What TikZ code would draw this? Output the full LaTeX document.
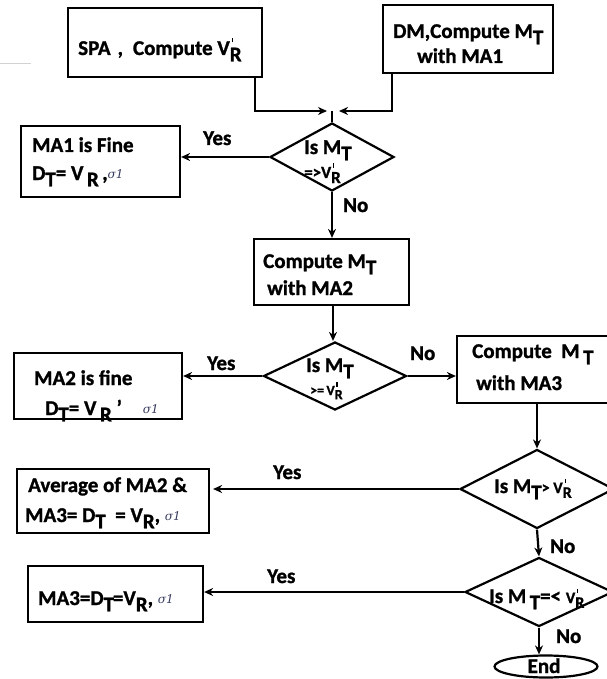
\documentclass[tikz,border=0pt]{standalone}
\usepackage{fontspec}
\setmainfont{Carlito}[BoldFeatures={FakeBold=1.2}]
\newfontfamily\sigfont{DejaVu Serif}
\usetikzlibrary{arrows.meta,shapes.geometric,calc}

\definecolor{sigcol}{RGB}{55,60,95}

% lowered subscript letter, prime tick, and the small sigma tag
\newcommand\lo[1]{\raisebox{-0.3em}{#1}}
\newcommand\pr{\makebox[0pt][l]{\kern0.12em\rule[0.6em]{1.1pt}{4.5pt}}}
\newcommand\sig{{\color{sigcol}\sigfont\mdseries\itshape\fontsize{12}{12}\selectfont\raisebox{0.12em}{σ1}}}

\tikzset{
  box/.style={draw, line width=2.2pt, inner sep=0pt},
  dia/.style={diamond, draw, line width=2.2pt, inner sep=0pt},
  txt/.style={inner sep=0pt, anchor=base west, font=\bfseries\fontsize{21}{23}\selectfont},
  lbl/.style={txt},
  link/.style={line width=2.2pt},
  arr/.style={line width=2.2pt, -{Stealth[length=9pt,width=8pt]}}
}

\begin{document}
\begin{tikzpicture}[x=1pt,y=-1pt]
\useasboundingbox (0,0) rectangle (606,679);

% stray rule at the top left
\draw[gray!35, line width=1pt] (0,64) -- (31,64);

% boxes
\node[box, minimum width=194pt, minimum height=69pt] (spa) at (165,42.5) {};
\node[box, minimum width=170pt, minimum height=68pt] (dm)  at (468,39) {};
\node[box, minimum width=159pt, minimum height=71pt] (ma1) at (100.5,161.5) {};
\node[box, minimum width=155pt, minimum height=66pt] (c2)  at (331.5,272) {};
\node[box, minimum width=168pt, minimum height=66pt] (ma2) at (98,386) {};
\node[box, minimum width=163pt, minimum height=67pt] (c3)  at (538.5,369.5) {};
\node[box, minimum width=192pt, minimum height=64pt] (avg) at (113,501) {};
\node[box, minimum width=175pt, minimum height=56pt] (ma3) at (115.5,594) {};
\node[ellipse, draw, line width=2.2pt, inner sep=0pt, minimum width=103pt, minimum height=22pt] (end) at (546,666.5) {};

% decisions
\node[dia, minimum width=124pt, minimum height=68pt] (d1) at (332,157) {};
\node[dia, minimum width=143pt, minimum height=68pt] (d2) at (335,376) {};
\node[dia, minimum width=154pt, minimum height=79pt] (d3) at (537,489) {};
\node[dia, minimum width=148pt, minimum height=69pt] (d4) at (539,592) {};

% texts
\node[txt] (t1) at (78,55) {SPA\hspace{7pt},\hspace{10pt}Compute V\pr\lo{R}};
\node[txt] (t2) at (393,38) {DM,Compute M\lo{T}};
\node[txt] (t3) at (417,63) {with MA1};
\node[txt] (t4) at (32,152) {MA1 is Fine};
\node[txt] (t5) at (32,180) {D\lo{T}= V\,\lo{R}\,,\sig};
\node[txt] (t6) at (304,154) {Is M\lo{T}};
\node[txt] (t7) at (304,178) {\fontsize{17}{17}\selectfont =>V\pr\lo{R}};
\node[txt] (t8) at (263,268) {Compute M\lo{T}};
\node[txt] (t9) at (267,295) {with MA2};
\node[txt] (t10) at (306,372) {Is M\lo{T}};
\node[txt] (t11) at (310,395) {\fontsize{14}{14}\selectfont >=\,V\pr\lo{R}};
\node[txt] (t12) at (34,385) {MA2 is fine};
\node[txt] (t13) at (45,415) {D\lo{T}= V\,\lo{R}\ ’\quad\sig};
\node[txt] (t14) at (472,358) {Compute\ \ M\,\lo{T}};
\node[txt] (t15) at (476,390) {with MA3};
\node[txt] (t16) at (494,493) {Is M\lo{T}{\fontsize{16}{16}\selectfont > V\pr\lo{R}}};
\node[txt] (t17) at (28,492) {Average of MA2 \&};
\node[txt] (t18) at (25,522) {MA3= D\lo{T}\ \ = V\lo{R}, \sig};
\node[txt] (t19) at (38,605) {MA3=D\lo{T}\kern-0.05em=V\lo{R}, \sig};
\node[txt] (t20) at (489,603) {Is M\,\lo{T}=< {\fontsize{16}{16}\selectfont V\pr\lo{R}}};
\node[txt, anchor=base] (t21) at (544,673) {End};

% branch labels
\node[lbl] (y1) at (203,145) {Yes};
\node[lbl] (n1) at (343,212) {No};
\node[lbl] (y2) at (207,370) {Yes};
\node[lbl] (n2) at (410,360) {No};
\node[lbl] (y3) at (273,479) {Yes};
\node[lbl] (n3) at (550,553) {No};
\node[lbl] (y4) at (267,583) {Yes};
\node[lbl] (n4) at (556,643) {No};

% connectors
\coordinate (mg) at (332,111);
\draw[arr] ([xshift=-8pt]spa.south east) |- ([xshift=-5pt]mg);
\draw[arr] ([xshift=10pt]dm.south west) |- ([xshift=7pt]mg);
\draw[link] (mg) -- (d1.north);
\draw[arr] (d1.west) -- (d1.west -| ma1.east);
\draw[arr] (d1.south) -- (d1.south |- c2.north);
\draw[arr] ([xshift=1.5pt]c2.south) -- ([xshift=1.5pt]c2.south |- d2.north);
\draw[arr] (d2.west) -- (d2.west -| ma2.east);
\draw[arr] (d2.east) -- (d2.east -| c3.west);
\draw[arr] (d3.north |- c3.south) -- (d3.north);
\draw[arr, shorten >=3pt] (d3.west) -- (d3.west -| avg.east);
\draw[arr] (d3.south) -- (d4.north);
\draw[arr] (d4.west) -- (d4.west -| ma3.east);
\draw[arr] (d4.south) -- (d4.south |- end.north);
\end{tikzpicture}
\end{document}
